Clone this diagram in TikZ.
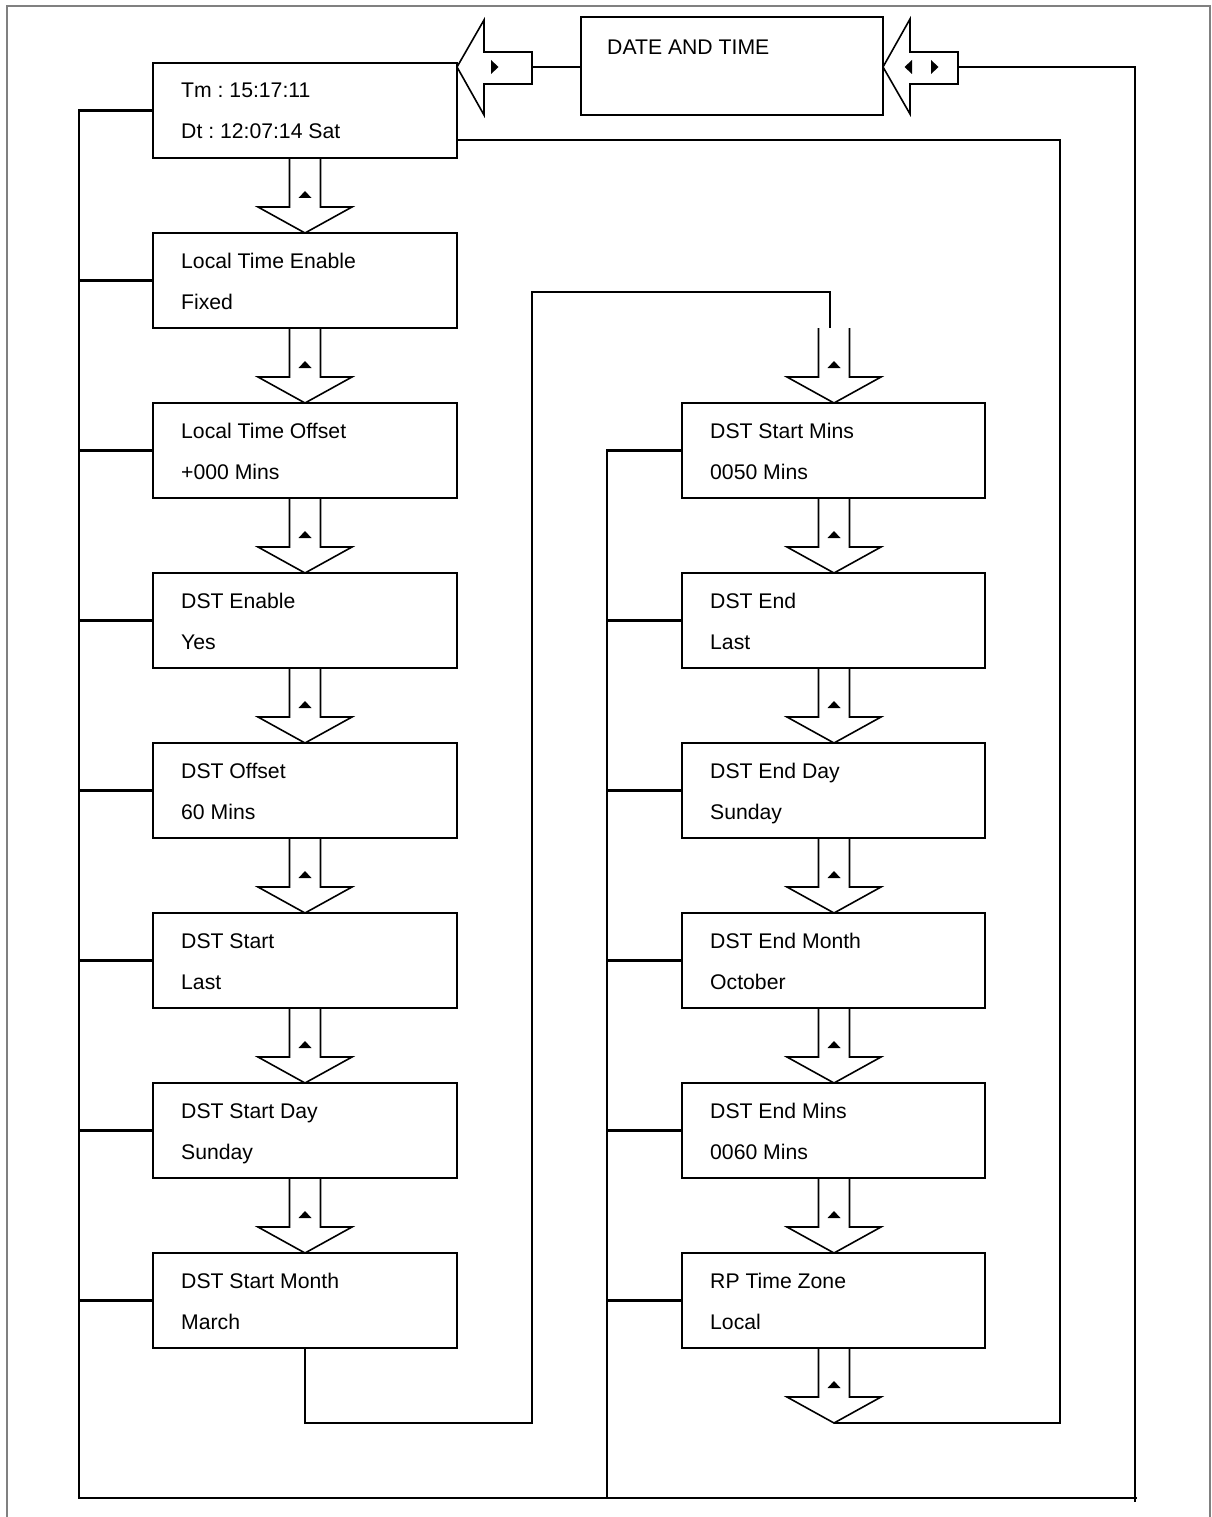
\documentclass[tikz,border=0pt]{standalone}
\usepackage{fontspec}
\setmainfont{Liberation Sans}
\usetikzlibrary{calc}
\frenchspacing
\newcommand\mybox[6]{%
  \node[box, minimum width=#4pt] (#1) at (#2,#3) {};
  \node[txt] (#1a) at ($(#1.north west)+(28,35)$) {#5};
  \node[txt] (#1b) at ($(#1.north west)+(28,76)$) {#6};}
\newcommand\dnarr[2]{%
  \draw[arr] (#1-15.5,#2) -- (#1-15.5,#2+49) -- (#1-47,#2+49) -- (#1,#2+75) -- (#1+47,#2+49) -- (#1+15.5,#2+49) -- (#1+15.5,#2);
  \fill (#1-6.5,#2+40) -- (#1+6.5,#2+40) -- (#1,#2+33) -- cycle;}
\begin{document}
\frenchspacing
\begin{tikzpicture}[x=1pt,y=-1pt,
  box/.style={draw, line width=2.8pt, minimum height=95pt, anchor=north west, inner sep=0pt, outer sep=0pt},
  txt/.style={anchor=base west, inner sep=0pt, font=\fontsize{21.2}{25}\selectfont},
  conn/.style={line width=2.8pt},
  arr/.style={line width=1.6pt, line join=miter},
  frame/.style={draw=black!50, line width=1.5pt}]
\useasboundingbox (0,0) rectangle (1211,1517);
\draw[frame] (7,1530) -- (7,6) -- (1210,6) -- (1210,1530);

% title box
\node[box, minimum width=302pt, minimum height=98pt] (D) at (581,17) {};
\node[txt] (Da) at ($(D.north west)+(26,38)$) {DATE AND TIME};

% left column
\mybox{L0}{153}{63}{304}{Tm : 15:17:11}{Dt : 12:07:14 Sat}
\mybox{L1}{153}{233}{304}{Local Time Enable}{Fixed}
\mybox{L2}{153}{403}{304}{Local Time Offset}{+000 Mins}
\mybox{L3}{153}{573}{304}{DST Enable}{Yes}
\mybox{L4}{153}{743}{304}{DST Offset}{60 Mins}
\mybox{L5}{153}{913}{304}{DST Start}{Last}
\mybox{L6}{153}{1083}{304}{DST Start Day}{Sunday}
\mybox{L7}{153}{1253}{304}{DST Start Month}{March}

% right column
\mybox{R0}{682}{403}{303}{DST Start Mins}{0050 Mins}
\mybox{R1}{682}{573}{303}{DST End}{Last}
\mybox{R2}{682}{743}{303}{DST End Day}{Sunday}
\mybox{R3}{682}{913}{303}{DST End Month}{October}
\mybox{R4}{682}{1083}{303}{DST End Mins}{0060 Mins}
\mybox{R5}{682}{1253}{303}{RP Time Zone}{Local}

% down arrows
\foreach \t in {158,328,498,668,838,1008,1178} {\dnarr{305}{\t}}
\foreach \t in {328,498,668,838,1008,1178,1348} {\dnarr{834}{\t}}
\coordinate (tipR) at (834,1423);
\coordinate (a8top) at (830,328);

% horizontal arrows
\draw[arr] (532,52) -- (484,52) -- (484,20) -- (457,67) -- (484,115) -- (484,84) -- (532,84) -- cycle;
\fill (491,60) -- (491,74) -- (498.5,67) -- cycle;
\coordinate (laTail) at (532,67);
\draw[arr] (958,52) -- (910,52) -- (910,19) -- (883,67) -- (910,114) -- (910,84) -- (958,84) -- cycle;
\fill (912,60) -- (912,74) -- (904.5,67) -- cycle;
\fill (931,60) -- (931,74) -- (938.5,67) -- cycle;
\coordinate (raTail) at (958,67);

% connectors
\draw[conn] (D.west |- laTail) -- (laTail);
\draw[conn] (raTail) -| (1135,1502);
\draw[conn] (L0.west) -| (79,1498) -- (1137,1498);
\foreach \n in {L1,L2,L3,L4,L5,L6,L7} {\draw[conn] (\n.west) -- ++(-74,0);}
\draw[conn] (R0.west) -| (607,1498);
\foreach \n in {R1,R2,R3,R4,R5} {\draw[conn] (\n.west) -- ++(-75,0);}
\draw[conn] ($(L0.south east)+(0,-18)$) -| (1060,1423) -- (tipR);
\draw[conn] (L7.south) -- ++(0,75) -| (532,292) -| (a8top);
\end{tikzpicture}
\end{document}
